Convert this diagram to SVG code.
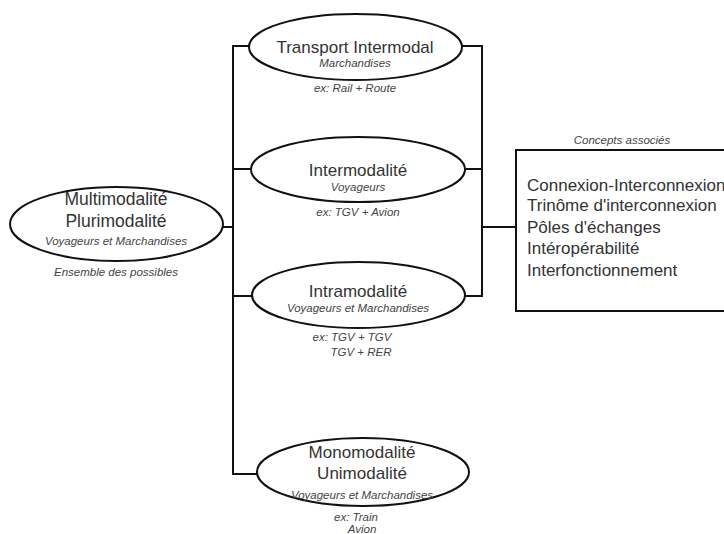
<svg xmlns="http://www.w3.org/2000/svg" width="724" height="534" viewBox="0 0 724 534">
<style>
.bg{fill:#fff}
.node{fill:#fff;stroke:#111;stroke-width:2}
.conn{fill:none;stroke:#111;stroke-width:2}
.t{font-family:"Liberation Sans",Arial,sans-serif;font-size:17px;fill:#333;text-anchor:middle}
.s{font-family:"Liberation Sans",Arial,sans-serif;font-size:11.5px;font-style:italic;fill:#444;text-anchor:middle}
.b{font-family:"Liberation Sans",Arial,sans-serif;font-size:17px;fill:#333}
</style>
<rect class="bg" x="0" y="0" width="724" height="534"/>
<g id="connectors">
<path class="conn" d="M223,227 H233"/>
<path class="conn" d="M249,46 H233 V474 H257"/>
<path class="conn" d="M233,169 H251"/>
<path class="conn" d="M233,296 H252"/>
<path class="conn" d="M462,46 H482 V296 H465"/>
<path class="conn" d="M465,169 H482"/>
<path class="conn" d="M482,227 H516"/>
</g>
<g id="multimodalite">
<ellipse class="node" cx="116.5" cy="224" rx="106.5" ry="37"/>
<text class="t" x="116" y="205" style="font-size:17.5px">Multimodalité</text>
<text class="t" x="116" y="227" style="font-size:17.5px">Plurimodalité</text>
<text class="s" x="116" y="245">Voyageurs et Marchandises</text>
<text class="s" x="116" y="276">Ensemble des possibles</text>
</g>
<g id="transport-intermodal">
<ellipse class="node" cx="355.5" cy="47" rx="106.5" ry="33"/>
<text class="t" x="355" y="53">Transport Intermodal</text>
<text class="s" x="355" y="67">Marchandises</text>
<text class="s" x="355" y="92">ex: Rail + Route</text>
</g>
<g id="intermodalite">
<ellipse class="node" cx="358" cy="169.5" rx="107" ry="32.5"/>
<text class="t" x="358" y="176">Intermodalité</text>
<text class="s" x="358" y="191">Voyageurs</text>
<text class="s" x="358" y="216">ex: TGV + Avion</text>
</g>
<g id="intramodalite">
<ellipse class="node" cx="358.5" cy="295" rx="106.5" ry="33"/>
<text class="t" x="358" y="297">Intramodalité</text>
<text class="s" x="358" y="312">Voyageurs et Marchandises</text>
<text class="s" x="352" y="341">ex: TGV + TGV</text>
<text class="s" x="361" y="356">TGV + RER</text>
</g>
<g id="monomodalite">
<ellipse class="node" cx="363" cy="472" rx="106" ry="34"/>
<text class="t" x="362" y="458">Monomodalité</text>
<text class="t" x="362" y="479">Unimodalité</text>
<text class="s" x="362" y="499">Voyageurs et Marchandises</text>
<text class="s" x="356" y="521">ex: Train</text>
<text class="s" x="362" y="533">Avion</text>
</g>
<g id="concepts">
<text class="s" x="622" y="144">Concepts associés</text>
<rect class="node" x="516" y="150" width="220" height="161"/>
<text class="b" x="527" y="191">Connexion-Interconnexion</text>
<text class="b" x="527" y="211">Trinôme d'interconnexion</text>
<text class="b" x="527" y="233">Pôles d'échanges</text>
<text class="b" x="527" y="254">Intéropérabilité</text>
<text class="b" x="527" y="276">Interfonctionnement</text>
</g>
</svg>
